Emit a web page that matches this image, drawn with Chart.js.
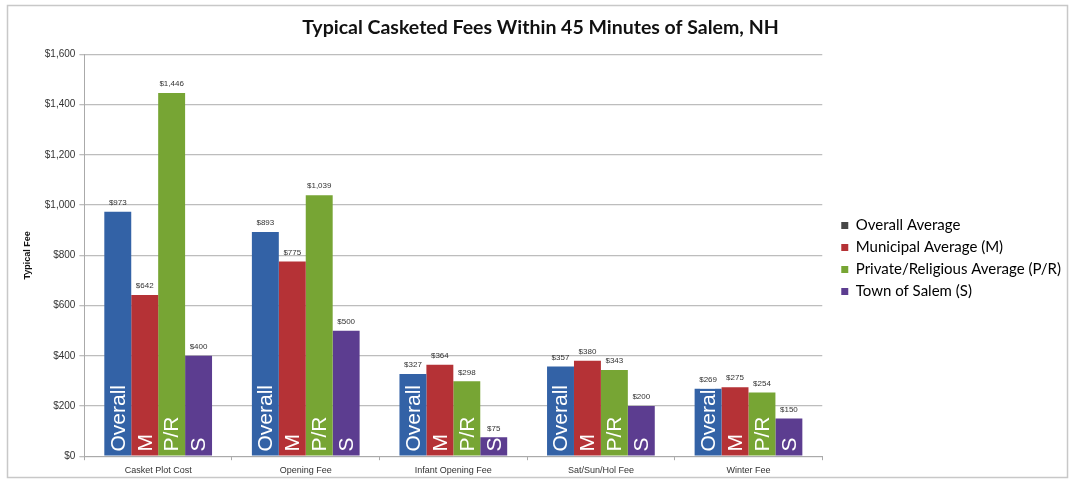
<!DOCTYPE html>
<html>
<head>
<meta charset="utf-8">
<script src="https://cdn.jsdelivr.net/npm/chart.js@4.4.0/dist/chart.umd.min.js"></script>
<style>
  html, body { margin: 0; padding: 0; background: #fff; }
  #wrap { width: 1073px; height: 483px; position: relative; }
</style>
</head>
<body>
<div id="wrap"><canvas id="feeChart" width="1073" height="483"></canvas></div>
<script>
// Data
const categories = ['Casket Plot Cost', 'Opening Fee', 'Infant Opening Fee', 'Sat/Sun/Hol Fee', 'Winter Fee'];
const seriesNames = ['Overall Average', 'Municipal Average (M)', 'Private/Religious Average (P/R)', 'Town of Salem (S)'];
const barTags = ['Overall', 'M', 'P/R', 'S'];
const overallAvg = [973, 893, 327, 357, 269];
const municipalAvg = [642, 775, 364, 380, 275];
const privateAvg = [1446, 1039, 298, 343, 254];
const salemFees = [400, 500, 75, 200, 150];
const yTicks = [0, 200, 400, 600, 800, 1000, 1200, 1400, 1600];

const barColors = ['#3362A6', '#B53236', '#77A534', '#5C3D90'];
const legendColors = ['#474747', '#B53236', '#77A534', '#5C3D90'];

function money(v) {
    return '$' + v.toLocaleString('en-US');
}

// Draws the frame, the value labels and the rotated tags inside bars
const barTextPlugin = {
    id: 'barText',
    afterLayout(chart) {
        // nudge the legend a bit lower and to the right
        const lg = chart.legend;
        lg.left += 12; lg.right += 12;
        lg.top += 18; lg.bottom += 18;
    },
    beforeDraw(chart) {
        const ctx = chart.ctx;
        ctx.save();
        ctx.fillStyle = '#fff';
        ctx.fillRect(0, 0, chart.width, chart.height);
        ctx.strokeStyle = '#c8c8c8';
        ctx.lineWidth = 1.5;
        ctx.strokeRect(7.5, 5.5, 1060, 472);
        ctx.restore();
    },
    afterDatasetsDraw(chart) {
        const ctx = chart.ctx;
        chart.data.datasets.forEach((ds, di) => {
            const meta = chart.getDatasetMeta(di);
            meta.data.forEach((bar, i) => {
                const v = ds.data[i];
                ctx.save();
                ctx.fillStyle = '#333';
                ctx.font = '8px "Liberation Sans", Arial, sans-serif';
                ctx.textAlign = 'center';
                ctx.textBaseline = 'bottom';
                ctx.fillText(money(v), bar.x, bar.y - 5);

                ctx.translate(bar.x + 1, bar.base - 4);
                ctx.rotate(-Math.PI / 2);
                ctx.fillStyle = '#fff';
                ctx.font = '21px "Liberation Sans", Arial, sans-serif';
                ctx.textAlign = 'left';
                ctx.textBaseline = 'middle';
                ctx.fillText(barTags[di], 0, 0);
                ctx.restore();
            });
        });
    }
};

const ctx = document.getElementById('feeChart').getContext('2d');
new Chart(ctx, {
    type: 'bar',
    data: {
        labels: categories,
        datasets: [
            { label: seriesNames[0], data: overallAvg, backgroundColor: barColors[0] },
            { label: seriesNames[1], data: municipalAvg, backgroundColor: barColors[1] },
            { label: seriesNames[2], data: privateAvg, backgroundColor: barColors[2] },
            { label: seriesNames[3], data: salemFees, backgroundColor: barColors[3] }
        ]
    },
    options: {
        responsive: false,
        animation: false,
        datasets: {
            bar: { categoryPercentage: 0.73, barPercentage: 1.0 }
        },
        layout: {
            padding: { left: 22, right: 14, top: 0, bottom: 2 }
        },
        scales: {
            x: {
                grid: { drawOnChartArea: false, drawTicks: true, tickLength: 4, color: '#aaa' },
                border: { color: '#aaa' },
                ticks: {
                    color: '#333',
                    font: { family: '"Liberation Sans", Arial, sans-serif', size: 9 },
                    padding: 5,
                    maxRotation: 0
                }
            },
            y: {
                min: 0,
                max: 1600,
                afterBuildTicks(axis) {
                    axis.ticks = yTicks.map(v => ({ value: v }));
                },
                grid: { color: '#bdbdbd', lineWidth: 1.3, tickLength: 5 },
                border: { color: '#aaa' },
                ticks: {
                    color: '#333',
                    font: { family: '"Liberation Sans", Arial, sans-serif', size: 10 },
                    padding: 4,
                    callback: v => money(v)
                },
                title: {
                    display: true,
                    text: 'Typical Fee',
                    color: '#111',
                    font: { family: '"Liberation Sans", Arial, sans-serif', size: 9, weight: 'bold' },
                    padding: { top: 0, bottom: 8 }
                }
            }
        },
        plugins: {
            title: {
                display: true,
                text: 'Typical Casketed Fees Within 45 Minutes of Salem, NH',
                color: '#111',
                font: { family: 'Lato, "Open Sans", sans-serif', size: 19.5, weight: 'bold' },
                padding: { top: 16, bottom: 15 }
            },
            legend: {
                position: 'right',
                align: 'center',
                labels: {
                    boxWidth: 7,
                    boxHeight: 7,
                    padding: 7,
                    color: '#222',
                    font: { family: 'Lato, "Open Sans", sans-serif', size: 15 },
                    generateLabels(chart) {
                        return chart.data.datasets.map((ds, i) => ({
                            text: ds.label,
                            fillStyle: legendColors[i],
                            strokeStyle: legendColors[i],
                            lineWidth: 0,
                            hidden: false,
                            datasetIndex: i
                        }));
                    }
                }
            },
            tooltip: { enabled: false }
        }
    },
    plugins: [barTextPlugin]
});
</script>
</body>
</html>
